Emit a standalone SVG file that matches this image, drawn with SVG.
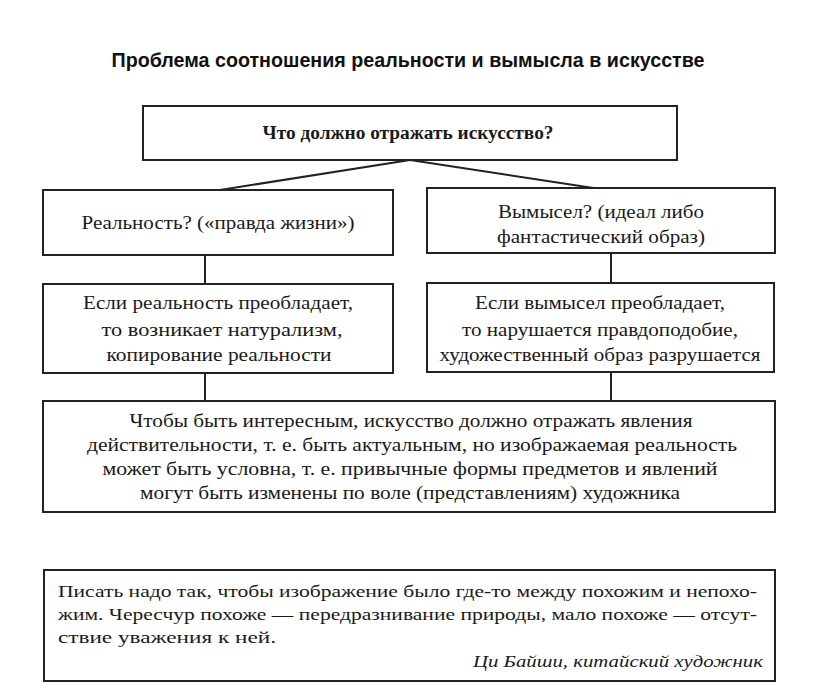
<svg xmlns="http://www.w3.org/2000/svg" width="816" height="700" viewBox="0 0 816 700">
<style>
.box{fill:#fff;stroke:#222;stroke-width:2}
.ln{stroke:#222;stroke-width:2;fill:none}
.t{font-family:'Liberation Serif','DejaVu Serif','Times New Roman',serif;font-size:18px;fill:#1a1a1a;text-anchor:middle}
.q{font-family:'Liberation Serif','DejaVu Serif','Times New Roman',serif;font-size:17px;fill:#1a1a1a}
.h{font-family:'Liberation Sans','DejaVu Sans',Arial,sans-serif;font-weight:bold;font-size:20px;fill:#111;text-anchor:middle}
</style>
<rect width="816" height="700" fill="#fff"/>
<text class="h" x="408" y="67" textLength="593" lengthAdjust="spacingAndGlyphs">Проблема соотношения реальности и вымысла в искусстве</text>
<g id="connectors">
<line class="ln" x1="410" y1="160" x2="220" y2="190"/>
<line class="ln" x1="410" y1="160" x2="600" y2="189"/>
<line class="ln" x1="205" y1="255" x2="205" y2="284"/>
<line class="ln" x1="611" y1="253" x2="611" y2="283"/>
<line class="ln" x1="205" y1="373" x2="205" y2="401"/>
<line class="ln" x1="611" y1="372" x2="611" y2="400"/>
</g>
<g id="question">
<rect class="box" x="143" y="106" width="534" height="54"/>
<text class="t" x="408" y="139" font-weight="bold" font-size="17" textLength="291" lengthAdjust="spacingAndGlyphs">Что должно отражать искусство?</text>
</g>
<g id="reality">
<rect class="box" x="43" y="190" width="350" height="65"/>
<text class="t" x="218" y="229" textLength="273" lengthAdjust="spacingAndGlyphs">Реальность? («правда жизни»)</text>
</g>
<g id="fiction">
<rect class="box" x="427" y="188" width="348" height="65"/>
<text class="t" x="601" y="218" textLength="206" lengthAdjust="spacingAndGlyphs">Вымысел? (идеал либо</text>
<text class="t" x="601" y="243" textLength="208" lengthAdjust="spacingAndGlyphs">фантастический образ)</text>
</g>
<g id="reality-result">
<rect class="box" x="43" y="284" width="350" height="89"/>
<text class="t" x="218" y="309" textLength="270" lengthAdjust="spacingAndGlyphs">Если реальность преобладает,</text>
<text class="t" x="222" y="336" textLength="241" lengthAdjust="spacingAndGlyphs">то возникает натурализм,</text>
<text class="t" x="219" y="361" textLength="225" lengthAdjust="spacingAndGlyphs">копирование реальности</text>
</g>
<g id="fiction-result">
<rect class="box" x="427" y="283" width="347" height="89"/>
<text class="t" x="600" y="309" textLength="250" lengthAdjust="spacingAndGlyphs">Если вымысел преобладает,</text>
<text class="t" x="600" y="336" textLength="276" lengthAdjust="spacingAndGlyphs">то нарушается правдоподобие,</text>
<text class="t" x="600" y="361" textLength="321" lengthAdjust="spacingAndGlyphs">художественный образ разрушается</text>
</g>
<g id="conclusion">
<rect class="box" x="43" y="401" width="732" height="111"/>
<text class="t" x="411" y="427" textLength="563" lengthAdjust="spacingAndGlyphs">Чтобы быть интересным, искусство должно отражать явления</text>
<text class="t" x="412" y="451" textLength="650" lengthAdjust="spacingAndGlyphs">действительности, т. е. быть актуальным, но изображаемая реальность</text>
<text class="t" x="410" y="475" textLength="615" lengthAdjust="spacingAndGlyphs">может быть условна, т. е. привычные формы предметов и явлений</text>
<text class="t" x="410" y="499" textLength="540" lengthAdjust="spacingAndGlyphs">могут быть изменены по воле (представлениям) художника</text>
</g>
<g id="quote">
<rect class="box" x="44" y="570" width="731" height="111"/>
<text class="q" x="58" y="597" textLength="699" lengthAdjust="spacingAndGlyphs">Писать надо так, чтобы изображение было где-то между похожим и непохо-</text>
<text class="q" x="58" y="620" textLength="699" lengthAdjust="spacingAndGlyphs">жим. Чересчур похоже — передразнивание природы, мало похоже — отсут-</text>
<text class="q" x="58" y="643" textLength="218" lengthAdjust="spacingAndGlyphs">ствие уважения к ней.</text>
<text class="q" x="763" y="667" font-style="italic" text-anchor="end" textLength="290" lengthAdjust="spacingAndGlyphs">Ци Байши, китайский художник</text>
</g>
</svg>
